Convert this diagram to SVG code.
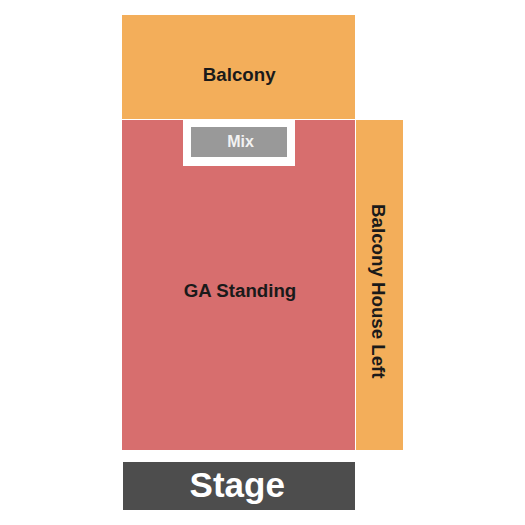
<svg xmlns="http://www.w3.org/2000/svg" width="525" height="525" viewBox="0 0 525 525">
<style>
text{font-family:"Liberation Sans",Arial,sans-serif;font-weight:bold;text-anchor:middle}
.bal{fill:#F3AE5A}
.dark{fill:#1a1a1a;font-size:18.7px}
</style>
<rect width="525" height="525" fill="#fff"/>
<g id="balcony">
<rect class="bal" x="122" y="15" width="233" height="104"/>
<text class="dark" x="239.2" y="80.7">Balcony</text>
</g>
<g id="ga-standing">
<rect x="122" y="120" width="233" height="330" fill="#D76E6E"/>
<text class="dark" x="240" y="297.3">GA Standing</text>
</g>
<g id="mix">
<rect x="183" y="120" width="112" height="46" fill="#fff"/>
<rect x="191" y="127" width="96" height="30" fill="#999"/>
<text x="240.5" y="146.5" font-size="16" fill="#f2f2f2">Mix</text>
</g>
<g id="balcony-house-left">
<rect class="bal" x="356" y="120" width="47" height="330"/>
<text class="dark" transform="translate(371.7,291.3) rotate(90)">Balcony House Left</text>
</g>
<g id="stage">
<rect x="123" y="462" width="232" height="48" fill="#4D4D4D"/>
<text x="237.2" y="496.7" font-size="35" fill="#fff">Stage</text>
</g>
<g id="connectors"/>
</svg>
